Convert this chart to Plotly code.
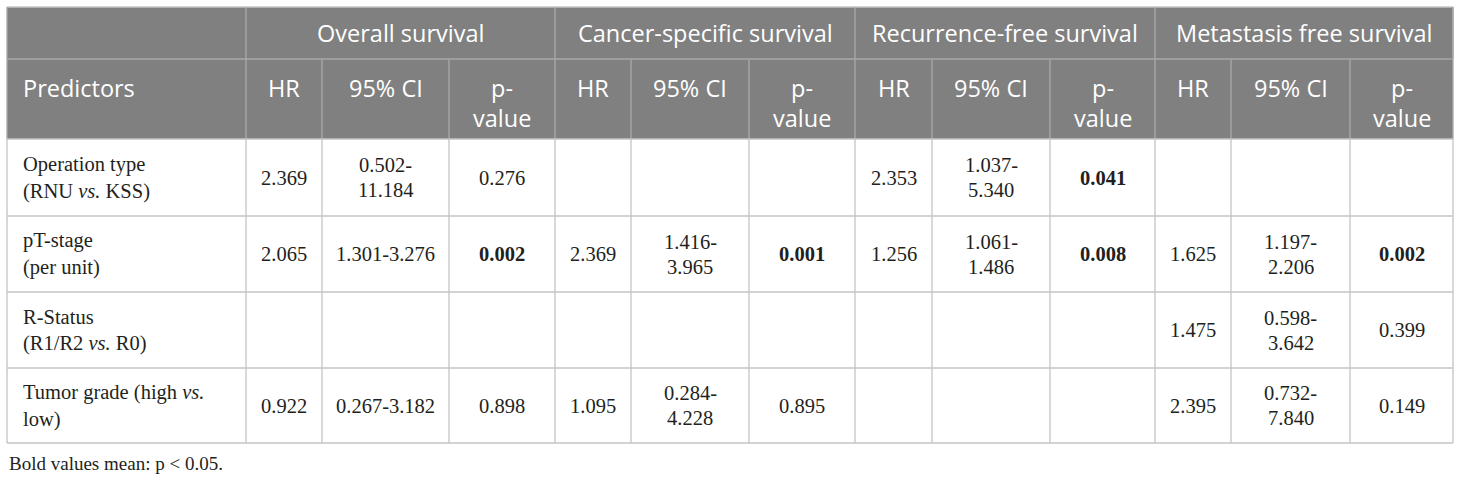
import plotly.graph_objects as go

# ---------------- data ----------------
groups = ["Overall survival", "Cancer-specific survival",
          "Recurrence-free survival", "Metastasis free survival"]
sub_headers = ["HR", "95% CI", "p-\nvalue"]
first_header = "Predictors"
predictors = ["Operation type\n(RNU <i>vs.</i> KSS)",
              "pT-stage\n(per unit)",
              "R-Status\n(R1/R2 <i>vs.</i> R0)",
              "Tumor grade (high <i>vs.</i>\nlow)"]

os_hr = ["2.369", "2.065", "", "0.922"]
os_ci = ["0.502-\n11.184", "1.301-3.276", "", "0.267-3.182"]
os_p = ["0.276", "0.002", "", "0.898"]

css_hr = ["", "2.369", "", "1.095"]
css_ci = ["", "1.416-\n3.965", "", "0.284-\n4.228"]
css_p = ["", "0.001", "", "0.895"]

rfs_hr = ["2.353", "1.256", "", ""]
rfs_ci = ["1.037-\n5.340", "1.061-\n1.486", "", ""]
rfs_p = ["0.041", "0.008", "", ""]

mfs_hr = ["", "1.625", "1.475", "2.395"]
mfs_ci = ["", "1.197-\n2.206", "0.598-\n3.642", "0.732-\n7.840"]
mfs_p = ["", "0.002", "0.399", "0.149"]

footnote = "Bold values mean: p < 0.05."
alpha = 0.05

# ---------------- layout geometry ----------------
W, H = 1460, 481
x_edges = [7, 246, 322, 449, 555, 631, 749, 855, 932, 1050, 1155, 1231, 1350, 1453]
y_edges = [7, 59, 139, 216, 292, 368, 443]

HEAD_BG = "#808080"
HEAD_LINE = "#a9a9a9"
BODY_LINE = "#c4c4c4"
TEXT = "#231f20"
SANS = "Open Sans"
SERIF = "Liberation Serif"

columns = [predictors,
           os_hr, os_ci, os_p,
           css_hr, css_ci, css_p,
           rfs_hr, rfs_ci, rfs_p,
           mfs_hr, mfs_ci, mfs_p]
p_cols = {3, 6, 9, 12}

fig = go.Figure()
shapes = []
annotations = []


def line(x0, y0, x1, y1, color):
    shapes.append(dict(type="line", xref="x", yref="y", x0=x0, y0=y0, x1=x1, y1=y1,
                       line=dict(color=color, width=1.3), layer="above"))


def text_lines(txt, x, yc, spacing, font, xanchor="center", bold=False):
    parts = txt.split("\n")
    n = len(parts)
    for i, p in enumerate(parts):
        y = yc + (i - (n - 1) / 2) * spacing
        t = f"<b>{p}</b>" if bold else p
        annotations.append(dict(x=x, y=y, xref="x", yref="y", text=t, showarrow=False,
                                xanchor=xanchor, yanchor="middle", font=font))


# header background
shapes.append(dict(type="rect", xref="x", yref="y", x0=x_edges[0], x1=x_edges[-1],
                   y0=y_edges[0], y1=y_edges[2], fillcolor=HEAD_BG,
                   line=dict(width=0), layer="below"))

head_font = dict(family=SANS, size=23.5, color="white")
body_font = dict(family=SERIF, size=20.5, color=TEXT)

# header row 1: group titles
for g, name in enumerate(groups):
    x0 = x_edges[1 + 3 * g]
    x1 = x_edges[4 + 3 * g]
    text_lines(name, (x0 + x1) / 2, 33, 30, head_font)

# header row 2
annotations.append(dict(x=21, y=88, xref="x", yref="y", text=first_header, showarrow=False,
                        xanchor="left", yanchor="middle", font=head_font))
for g in range(len(groups)):
    for k, sh in enumerate(sub_headers):
        c = 1 + 3 * g + k
        xc = (x_edges[c] + x_edges[c + 1]) / 2
        parts = sh.split("\n")
        for i, p in enumerate(parts):
            annotations.append(dict(x=xc, y=88 + i * 30, xref="x", yref="y", text=p,
                                    showarrow=False, xanchor="center", yanchor="middle",
                                    font=head_font))

# body cells
for r in range(len(predictors)):
    yc = (y_edges[2 + r] + y_edges[3 + r]) / 2
    for c, col in enumerate(columns):
        val = col[r]
        if not val:
            continue
        if c == 0:
            text_lines(val, 21, yc, 27, body_font, xanchor="left")
        else:
            xc = (x_edges[c] + x_edges[c + 1]) / 2
            bold = c in p_cols and float(val) < alpha
            text_lines(val, xc, yc, 25, body_font, bold=bold)

# grid lines: header
line(x_edges[0], y_edges[0], x_edges[-1], y_edges[0], BODY_LINE)
line(x_edges[0], y_edges[1], x_edges[-1], y_edges[1], HEAD_LINE)
for g in range(len(groups) + 1):
    xg = x_edges[1 + 3 * g] if g < len(groups) else x_edges[-1]
    line(xg, y_edges[0], xg, y_edges[1], HEAD_LINE)
for c in range(1, len(x_edges) - 1):
    line(x_edges[c], y_edges[1], x_edges[c], y_edges[2], HEAD_LINE)
line(x_edges[0], y_edges[0], x_edges[0], y_edges[2], HEAD_LINE)
line(x_edges[-1], y_edges[0], x_edges[-1], y_edges[2], HEAD_LINE)

# grid lines: body
for yy in y_edges[2:]:
    line(x_edges[0], yy, x_edges[-1], yy, BODY_LINE)
for xx in x_edges:
    line(xx, y_edges[2], xx, y_edges[-1], BODY_LINE)

# footnote
annotations.append(dict(x=7, y=463, xref="x", yref="y", text=footnote, showarrow=False,
                        xanchor="left", yanchor="middle",
                        font=dict(family=SERIF, size=19, color=TEXT)))

fig.update_layout(
    width=W, height=H, margin=dict(l=0, r=0, t=0, b=0),
    paper_bgcolor="white", plot_bgcolor="white",
    xaxis=dict(range=[0, W], visible=False, fixedrange=True),
    yaxis=dict(range=[H, 0], visible=False, fixedrange=True),
    shapes=shapes, annotations=annotations, showlegend=False,
)

fig.write_html("out.html", config={"displayModeBar": False},
               post_script="document.body.style.margin='0';document.body.style.overflow='hidden';")
